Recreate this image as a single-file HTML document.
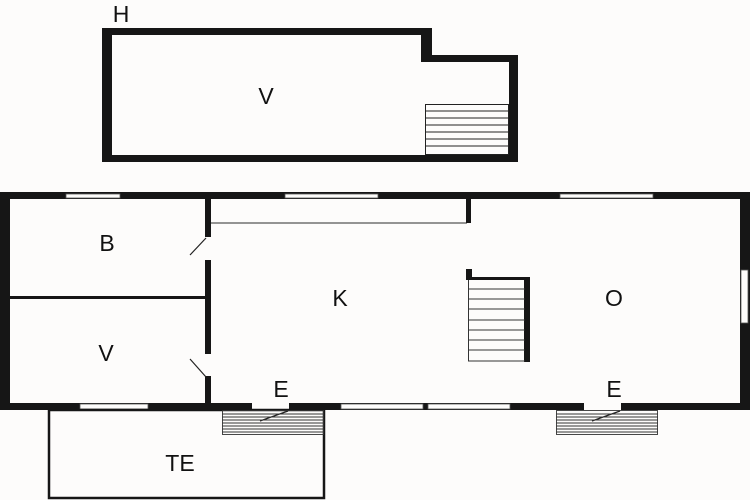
<!DOCTYPE html>
<html><head><meta charset="utf-8"><style>
html,body{margin:0;padding:0;background:#fdfcfb;}
svg{display:block}
text{font-family:"Liberation Sans",sans-serif;font-size:23px;fill:#111;text-anchor:middle}
</style></head><body>
<svg width="750" height="500" viewBox="0 0 750 500">
<rect width="750" height="500" fill="#fdfcfb"/>
<!-- Top building -->
<polygon points="102,28 432,28 432,55 518,55 518,162 102,162" fill="#161616"/>
<polygon points="112,35 421,35 421,62 509,62 509,155 112,155" fill="#fdfcfb"/>
<g stroke="#222" stroke-width="1">
<rect x="425.5" y="104.5" width="83" height="50" fill="none"/>
<line x1="425" y1="111" x2="509" y2="111"/><line x1="425" y1="118" x2="509" y2="118"/>
<line x1="425" y1="125" x2="509" y2="125"/><line x1="425" y1="132" x2="509" y2="132"/>
<line x1="425" y1="139" x2="509" y2="139"/><line x1="425" y1="146" x2="509" y2="146"/>
</g>
<!-- Main building -->
<rect x="0" y="192" width="750" height="218" fill="#161616"/>
<rect x="10" y="199" width="730" height="204" fill="#fdfcfb"/>
<!-- top windows -->
<g fill="#fdfcfb" stroke="#555" stroke-width="0.8">
<rect x="66" y="194" width="54" height="4"/>
<rect x="285" y="194" width="93" height="4"/>
<rect x="560" y="194" width="93" height="4"/>
<rect x="80" y="404" width="68" height="5"/>
<rect x="341" y="404" width="82" height="5"/>
<rect x="428" y="404" width="82" height="5"/>
<rect x="741" y="270" width="7" height="53"/>
</g>
<rect x="252" y="403" width="37" height="7" fill="#fdfcfb"/>
<rect x="584" y="403" width="37" height="7" fill="#fdfcfb"/>
<!-- internal walls -->
<rect x="205" y="199" width="6" height="38" fill="#161616"/>
<rect x="205" y="260" width="6" height="94" fill="#161616"/>
<rect x="205" y="376" width="6" height="27" fill="#161616"/>
<rect x="10" y="296" width="195" height="3" fill="#161616"/>
<line x1="211" y1="223" x2="467" y2="223" stroke="#555" stroke-width="1.2"/>
<rect x="466" y="199" width="5" height="24" fill="#161616"/>
<!-- door swings -->
<line x1="190" y1="255" x2="206" y2="238" stroke="#222" stroke-width="1.2"/>
<line x1="190" y1="359" x2="206" y2="377" stroke="#222" stroke-width="1.2"/>
<line x1="260" y1="421" x2="288" y2="411" stroke="#222" stroke-width="1.2"/>
<line x1="592" y1="421" x2="620" y2="411" stroke="#222" stroke-width="1.2"/>
<!-- middle stairs -->
<rect x="466" y="269" width="6" height="11" fill="#161616"/>
<rect x="466" y="277" width="64" height="3" fill="#161616"/>
<rect x="524" y="277" width="6" height="85" fill="#161616"/>
<g stroke="#333" stroke-width="1">
<line x1="468.5" y1="280" x2="468.5" y2="361"/>
<line x1="468" y1="361" x2="525" y2="361"/>
<line x1="468" y1="289" x2="525" y2="289"/><line x1="468" y1="299" x2="525" y2="299"/>
<line x1="468" y1="309" x2="525" y2="309"/><line x1="468" y1="320" x2="525" y2="320"/>
<line x1="468" y1="330" x2="525" y2="330"/><line x1="468" y1="340" x2="525" y2="340"/>
<line x1="468" y1="350" x2="525" y2="350"/>
</g>
<!-- TE -->
<rect x="49" y="410" width="275" height="88" fill="none" stroke="#161616" stroke-width="2.5"/>
<!-- entrance stairs -->
<g stroke="#333" stroke-width="0.9" fill="none">
<rect x="222.5" y="410.5" width="101" height="24"/>
<line x1="222" y1="414" x2="324" y2="414"/><line x1="222" y1="417" x2="324" y2="417"/>
<line x1="222" y1="420" x2="324" y2="420"/><line x1="222" y1="423" x2="324" y2="423"/>
<line x1="222" y1="426" x2="324" y2="426"/><line x1="222" y1="429" x2="324" y2="429"/>
<line x1="222" y1="432" x2="324" y2="432"/>
<rect x="556.5" y="410.5" width="101" height="24"/>
<line x1="556" y1="414" x2="658" y2="414"/><line x1="556" y1="417" x2="658" y2="417"/>
<line x1="556" y1="420" x2="658" y2="420"/><line x1="556" y1="423" x2="658" y2="423"/>
<line x1="556" y1="426" x2="658" y2="426"/><line x1="556" y1="429" x2="658" y2="429"/>
<line x1="556" y1="432" x2="658" y2="432"/>
</g>
<!-- labels -->
<text x="121" y="22">H</text>
<text x="266" y="104">V</text>
<text x="107" y="251">B</text>
<text x="340" y="306">K</text>
<text x="614" y="306">O</text>
<text x="106" y="361">V</text>
<text x="281" y="397">E</text>
<text x="614" y="397">E</text>
<text x="180" y="471">TE</text>
</svg>
</body></html>
